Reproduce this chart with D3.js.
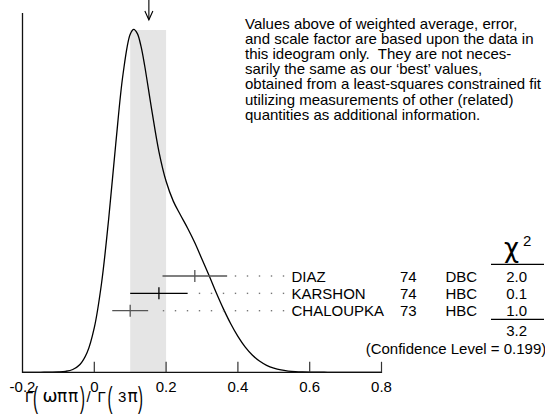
<!DOCTYPE html>
<html><head><meta charset="utf-8">
<script src="https://cdn.jsdelivr.net/npm/d3@7/dist/d3.min.js"></script>
<style>
html,body{margin:0;padding:0;background:#fff;}
svg{display:block;}
text{font-family:"Liberation Sans",Arial,Helvetica,sans-serif;fill:#000;}
</style></head>
<body>
<svg id="c" width="545" height="414"></svg>
<script>
// ---- data ----
const experiments = ["DIAZ", "KARSHON", "CHALOUPKA"];
const years = ["74", "74", "73"];
const techniques = ["DBC", "HBC", "HBC"];
const values = [0.28, 0.18, 0.10];
const errors = [0.09, 0.08, 0.05];
const chi2 = ["2.0", "0.1", "1.0"];
const chi2Total = "3.2";
const confidence = "(Confidence Level = 0.199)";
const weightedAverage = 0.152;
const bandRange = [0.10, 0.20];
const xTicks = [-0.2, 0, 0.2, 0.4, 0.6, 0.8];
const xTickLabels = ["-0.2", "0", "0.2", "0.4", "0.6", "0.8"];
// ideogram curve (x, relative height)
const curveX = [-0.20,-0.18,-0.16,-0.14,-0.12,-0.10,-0.08,-0.06,-0.04,-0.02,0.00,0.02,0.04,0.06,0.08,0.10,0.11,0.12,0.13,0.14,0.16,0.18,0.20,0.22,0.24,0.26,0.28,0.30,0.32,0.34,0.36,0.38,0.40,0.42,0.44,0.46,0.48,0.50,0.52,0.54,0.56,0.58,0.60,0.62,0.64,0.66,0.68,0.70,0.72,0.74,0.76,0.78,0.80];
const curveY = [0,0.01,0.02,0.06,0.17,0.49,1.45,4.2,11.7,29.8,67.5,134,232,347,451,511.5,519,512.5,493.5,465,397,334,289,259,238,218,196,171,146,120,95.6,73.5,54.4,38.5,26.2,17.0,10.6,6.3,3.5,1.9,0.98,0.48,0.22,0.10,0.04,0.02,0.01,0,0,0,0,0,0];
const noteLines = [
  "Values above of weighted average, error,",
  "and scale factor are based upon the data in",
  "this ideogram only.  They are not neces-",
  "sarily the same as our \u2018best\u2019 values,",
  "obtained from a least-squares constrained fit",
  "utilizing measurements of other (related)",
  "quantities as additional information."
];

// ---- layout ----
const svg = d3.select("#c");
const x = d3.scaleLinear().domain([-0.2, 0.8]).range([22.5, 381.5]);
const y = d3.scaleLinear().domain([0, 519]).range([372.3, 29.3]);
const row = d3.scalePoint().domain(experiments).range([276, 310.7]);
const base = y(0);

// band
svg.append("rect")
  .attr("x", x(bandRange[0])).attr("width", x(bandRange[1]) - x(bandRange[0]))
  .attr("y", y(d3.max(curveY)) + 0.7).attr("height", base - y(d3.max(curveY)) - 0.7)
  .attr("fill", "#e5e5e5");

// curve
const pts = curveX.map((v, i) => [v, curveY[i]]);
svg.append("path").datum(pts)
  .attr("d", d3.line().x(d => x(d[0])).y(d => y(d[1])).curve(d3.curveCatmullRom))
  .attr("fill", "none").attr("stroke", "#000").attr("stroke-width", 1.3);

// axes
svg.append("line").attr("x1", x(-0.2)).attr("x2", x(-0.2)).attr("y1", 13).attr("y2", base)
  .attr("stroke", "#111").attr("stroke-width", 1.3);
svg.append("line").attr("x1", x(-0.2) - 0.6).attr("x2", x(0.8) + 0.6).attr("y1", base).attr("y2", base)
  .attr("stroke", "#111").attr("stroke-width", 1.3);
svg.selectAll(".tick").data(xTicks.slice(1)).enter().append("line")
  .attr("x1", d => x(d)).attr("x2", d => x(d)).attr("y1", base).attr("y2", base - 10.5)
  .attr("stroke", "#333").attr("stroke-width", 1.2);
svg.selectAll(".tl").data(xTicks).enter().append("text")
  .attr("x", d => x(d)).attr("y", 391.5).attr("text-anchor", "middle")
  .style("font-size", "15px").text((d, i) => xTickLabels[i]);

// axis title Γ(ωππ)/Γ(3π)
const title = [
  ["\u0393", 25, 1, 15], ["(", 33, 2, 15], ["\u03C9", 42.5, 3, 18], ["\u03C0", 57, 3, 17], ["\u03C0", 68, 3, 17],
  [")", 80, 2, 15], ["/", 86.5, 1, 15], ["\u0393", 97.5, 1, 15], ["(", 107.5, 2, 15], ["3", 118, 1, 15],
  ["\u03C0", 127.5, 3, 17], [")", 138, 2, 15]
];
title.forEach(([ch, px, sc, fs]) => {
  const t = svg.append("text").style("font-size", fs + "px").text(ch);
  if (sc === 2) t.attr("transform", `translate(${px},407.5) scale(1,2)`);
  else t.attr("x", px).attr("y", 401.5);
  if (sc === 3) t.style("font-family", "DejaVu Sans");
});

// arrow
const ax = x(weightedAverage);
svg.append("line").attr("x1", ax).attr("x2", ax).attr("y1", 0).attr("y2", 19.5)
  .attr("stroke", "#000").attr("stroke-width", 1.1);
svg.append("path").attr("d", `M${ax - 4},11 L${ax},19.8 L${ax + 4},11`)
  .attr("fill", "none").attr("stroke", "#000").attr("stroke-width", 1.1);

// measurements
const barColors = ["#555", "#000", "#555"];
experiments.forEach((name, i) => {
  const yy = row(name);
  const lo = x(values[i] - errors[i]), hi = x(values[i] + errors[i]);
  svg.append("line").attr("x1", lo).attr("x2", hi).attr("y1", yy).attr("y2", yy)
    .attr("stroke", barColors[i]).attr("stroke-width", 1.3);
  svg.append("line").attr("x1", x(values[i])).attr("x2", x(values[i])).attr("y1", yy - 6).attr("y2", yy + 6)
    .attr("stroke", barColors[i]).attr("stroke-width", 1.3);
  // dotted leader, dots on a common 12px grid ending at 283.5
  const dots = d3.range(283.5, hi + 7, -12);
  svg.selectAll(null).data(dots).enter().append("rect")
    .attr("x", d => d - 0.7).attr("y", yy - 0.7).attr("width", 1.4).attr("height", 1.4)
    .attr("fill", "#777");
  const ty = yy + 5.5;
  svg.append("text").attr("x", 291.5).attr("y", ty).style("font-size", "15px").text(name);
  svg.append("text").attr("x", 400).attr("y", ty).style("font-size", "15px").text(years[i]);
  svg.append("text").attr("x", 445.5).attr("y", ty).style("font-size", "15px").text(techniques[i]);
  svg.append("text").attr("x", 516.7).attr("y", ty).attr("text-anchor", "middle").style("font-size", "15px").text(chi2[i]);
});

// chi2 header
svg.append("text").attr("x", 511.5).attr("y", 257).attr("text-anchor", "middle")
  .style("font-family", "DejaVu Sans").style("font-size", "26px").text("\u03C7");
svg.append("text").attr("x", 523).attr("y", 246).style("font-size", "15px").text("2");
svg.append("line").attr("x1", 491).attr("x2", 544).attr("y1", 264.3).attr("y2", 264.3)
  .attr("stroke", "#000").attr("stroke-width", 1.2);
svg.append("line").attr("x1", 491).attr("x2", 544).attr("y1", 319.3).attr("y2", 319.3)
  .attr("stroke", "#000").attr("stroke-width", 1.2);
svg.append("text").attr("x", 516.7).attr("y", 336).attr("text-anchor", "middle").style("font-size", "15px").text(chi2Total);
svg.append("text").attr("x", 365.7).attr("y", 354).style("font-size", "15px").text(confidence);

// note
svg.append("g").selectAll("text").data(noteLines).enter().append("text")
  .attr("x", 245).attr("y", (d, i) => 29 + i * 15.1)
  .attr("xml:space", "preserve").style("white-space", "pre")
  .style("font-size", "15px").text(d => d);
</script>
</body></html>
